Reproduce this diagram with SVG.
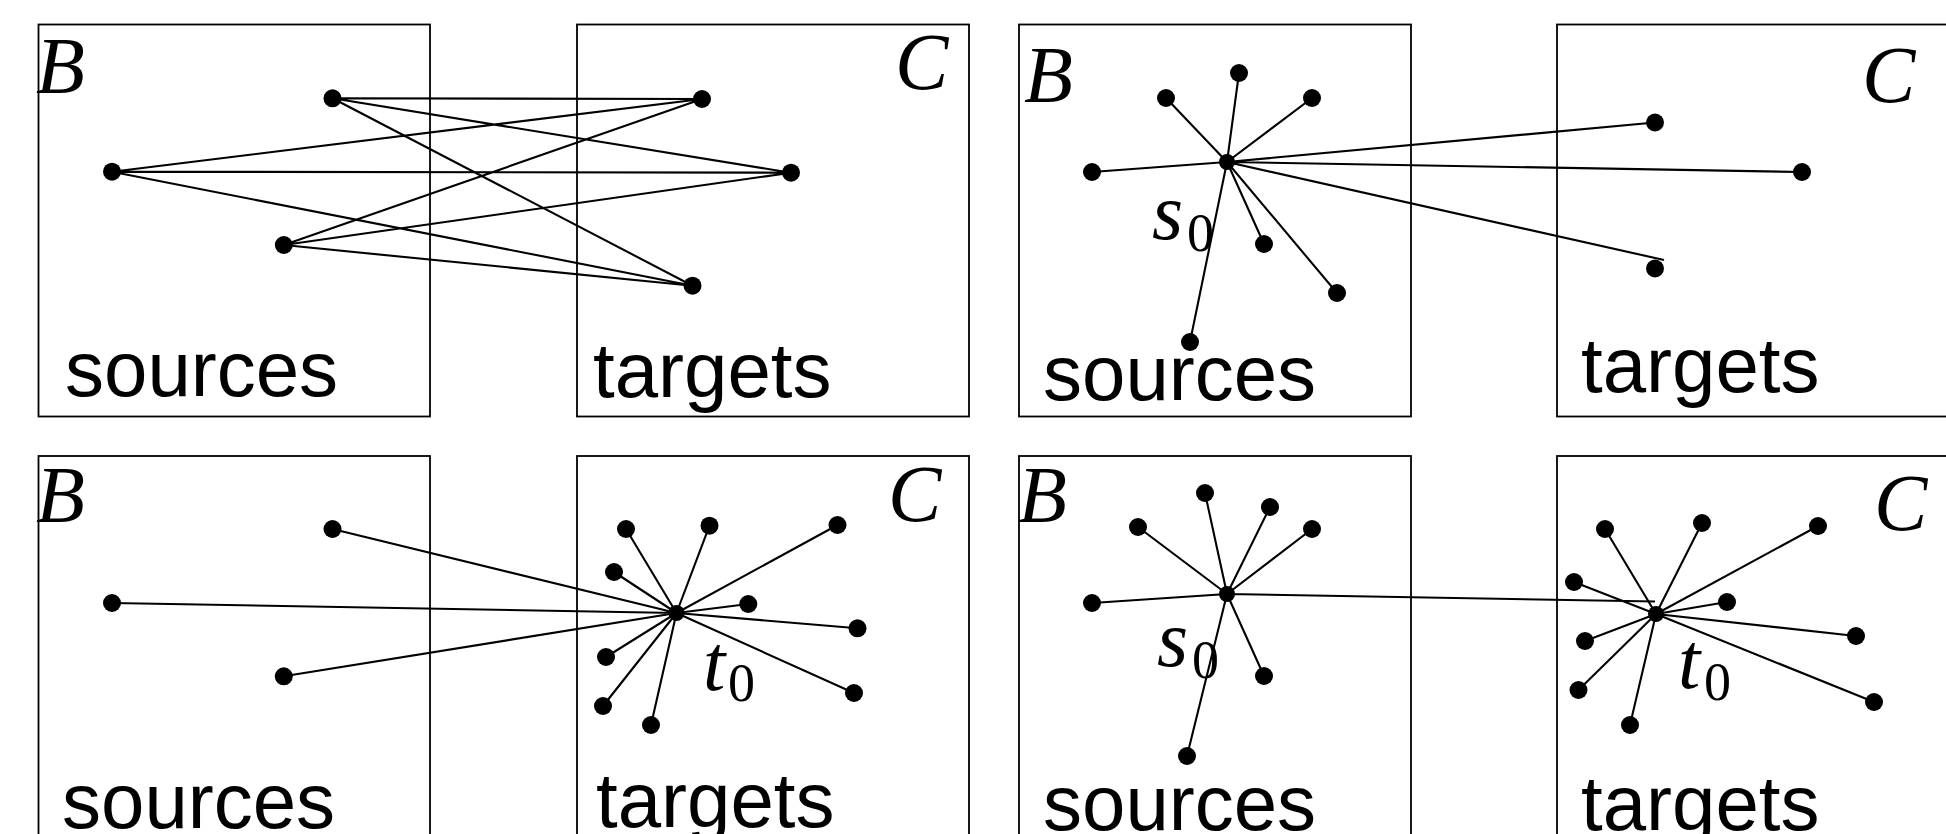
<svg xmlns="http://www.w3.org/2000/svg" width="1946" height="834" viewBox="0 0 1946 834">
<style>
.box{fill:none;stroke:#000;stroke-width:1.8}
.e{stroke:#000;stroke-width:2.1;fill:none}
.d{fill:#000}
.m{font-family:"Liberation Serif","DejaVu Serif",serif;font-style:italic;font-size:80px;fill:#000}
.sub{font-family:"Liberation Serif","DejaVu Serif",serif;font-size:54px;fill:#000}
.lbl{font-family:"Liberation Sans",Arial,sans-serif;font-size:78px;fill:#000}
</style>
<rect width="1946" height="834" fill="#fff"/>

<!-- Panel 1 -->
<g id="panel1-B">
<rect class="box" x="38.5" y="24.5" width="391.5" height="392"/>
<text class="m" x="36" y="93">B</text>
<text class="lbl" x="65" y="396">sources</text>
</g>
<g id="panel1-C">
<rect class="box" x="577" y="24.5" width="392" height="392"/>
<text class="m" x="895" y="89">C</text>
<text class="lbl" x="593" y="397">targets</text>
</g>
<g id="panel1-edges">
<path class="e" d="M332.5,98.3L702,99M332.5,98.3L791,172.7M332.5,98.3L692.5,285.7M112,171.7L702,99M112,171.7L791,172.7M112,171.7L692.5,285.7M283.8,245L702,99M283.8,245L791,172.7M283.8,245L692.5,285.7"/>
</g>
<g id="panel1-nodes">
<circle class="d" cx="332.5" cy="98.3" r="9"/>
<circle class="d" cx="112" cy="171.7" r="9"/>
<circle class="d" cx="283.8" cy="245" r="9"/>
<circle class="d" cx="702" cy="99" r="9"/>
<circle class="d" cx="791" cy="172.7" r="9"/>
<circle class="d" cx="692.5" cy="285.7" r="9"/>
</g>

<!-- Panel 2 -->
<g id="panel2-B">
<rect class="box" x="1019" y="24.5" width="392" height="392"/>
<text class="m" x="1024" y="102">B</text>
<text class="lbl" x="1043" y="400">sources</text>
</g>
<g id="panel2-C">
<rect class="box" x="1557" y="24.5" width="392" height="392"/>
<text class="m" x="1862" y="102">C</text>
<text class="lbl" x="1581" y="392">targets</text>
</g>
<g id="panel2-edges">
<path class="e" d="M1227,162L1092,172M1227,162L1166,98M1227,162L1239,73M1227,162L1312,98M1227,162L1264,244M1227,162L1337,293M1227,162L1190,342M1227,162L1655,122.5M1227,162L1802,172M1227,162L1664,260"/>
</g>
<g id="panel2-nodes">
<circle class="d" cx="1227" cy="162" r="8"/>
<circle class="d" cx="1092" cy="172" r="9"/>
<circle class="d" cx="1166" cy="98" r="9"/>
<circle class="d" cx="1239" cy="73" r="9"/>
<circle class="d" cx="1312" cy="98" r="9"/>
<circle class="d" cx="1264" cy="244" r="9"/>
<circle class="d" cx="1337" cy="293" r="9"/>
<circle class="d" cx="1190" cy="342" r="9"/>
<circle class="d" cx="1655" cy="122.5" r="9"/>
<circle class="d" cx="1802" cy="172" r="9"/>
<circle class="d" cx="1655" cy="268.5" r="9"/>
<text class="m" x="1152" y="239">s</text><text class="sub" x="1187" y="251">0</text>
</g>

<!-- Panel 3 -->
<g id="panel3-B">
<rect class="box" x="38.5" y="456" width="391.5" height="392"/>
<text class="m" x="36" y="522">B</text>
<text class="lbl" x="62" y="828">sources</text>
</g>
<g id="panel3-C">
<rect class="box" x="577" y="456" width="392" height="392"/>
<text class="m" x="888" y="521">C</text>
<text class="lbl" x="596" y="827">targets</text>
</g>
<g id="panel3-edges">
<path class="e" d="M676.5,613L332.5,529M676.5,613L112,603M676.5,613L283.8,676.3M676.5,613L626,529M676.5,613L709.5,525.7M676.5,613L837.5,525M676.5,613L614,572M676.5,613L748.3,604M676.5,613L857.5,628.3M676.5,613L606,657M676.5,613L854,693M676.5,613L603,706M676.5,613L651,725"/>
</g>
<g id="panel3-nodes">
<circle class="d" cx="332.5" cy="529" r="9"/>
<circle class="d" cx="112" cy="603" r="9"/>
<circle class="d" cx="283.8" cy="676.3" r="9"/>
<circle class="d" cx="676.5" cy="613" r="8"/>
<circle class="d" cx="626" cy="529" r="9"/>
<circle class="d" cx="709.5" cy="525.7" r="9"/>
<circle class="d" cx="837.5" cy="525" r="9"/>
<circle class="d" cx="614" cy="572" r="9"/>
<circle class="d" cx="748.3" cy="604" r="9"/>
<circle class="d" cx="857.5" cy="628.3" r="9"/>
<circle class="d" cx="606" cy="657" r="9"/>
<circle class="d" cx="854" cy="693" r="9"/>
<circle class="d" cx="603" cy="706" r="9"/>
<circle class="d" cx="651" cy="725" r="9"/>
<text class="m" x="703" y="690">t</text><text class="sub" x="728" y="701">0</text>
</g>

<!-- Panel 4 -->
<g id="panel4-B">
<rect class="box" x="1019" y="456" width="392" height="392"/>
<text class="m" x="1018" y="522">B</text>
<text class="lbl" x="1043" y="830">sources</text>
</g>
<g id="panel4-C">
<rect class="box" x="1557" y="456" width="392" height="392"/>
<text class="m" x="1874" y="530">C</text>
<text class="lbl" x="1581" y="830">targets</text>
</g>
<g id="panel4-edges">
<path class="e" d="M1227,594L1092,603M1227,594L1138,527M1227,594L1205,493M1227,594L1270,507M1227,594L1312,529M1227,594L1264,676M1227,594L1187,756M1227,594L1655,601.5"/>
<path class="e" d="M1656,614L1605,529M1656,614L1702,523M1656,614L1818,526M1656,614L1574,582M1656,614L1727,602M1656,614L1856,636M1656,614L1585,641M1656,614L1874,702M1656,614L1578.5,690M1656,614L1630,725"/>
</g>
<g id="panel4-nodes">
<circle class="d" cx="1227" cy="594" r="8"/>
<circle class="d" cx="1092" cy="603" r="9"/>
<circle class="d" cx="1138" cy="527" r="9"/>
<circle class="d" cx="1205" cy="493" r="9"/>
<circle class="d" cx="1270" cy="507" r="9"/>
<circle class="d" cx="1312" cy="529" r="9"/>
<circle class="d" cx="1264" cy="676" r="9"/>
<circle class="d" cx="1187" cy="756" r="9"/>
<circle class="d" cx="1656" cy="614" r="8"/>
<circle class="d" cx="1605" cy="529" r="9"/>
<circle class="d" cx="1702" cy="523" r="9"/>
<circle class="d" cx="1818" cy="526" r="9"/>
<circle class="d" cx="1574" cy="582" r="9"/>
<circle class="d" cx="1727" cy="602" r="9"/>
<circle class="d" cx="1856" cy="636" r="9"/>
<circle class="d" cx="1585" cy="641" r="9"/>
<circle class="d" cx="1874" cy="702" r="9"/>
<circle class="d" cx="1578.5" cy="690" r="9"/>
<circle class="d" cx="1630" cy="725" r="9"/>
<text class="m" x="1157" y="666">s</text><text class="sub" x="1192" y="678">0</text>
<text class="m" x="1678" y="688">t</text><text class="sub" x="1704" y="700">0</text>
</g>
</svg>
